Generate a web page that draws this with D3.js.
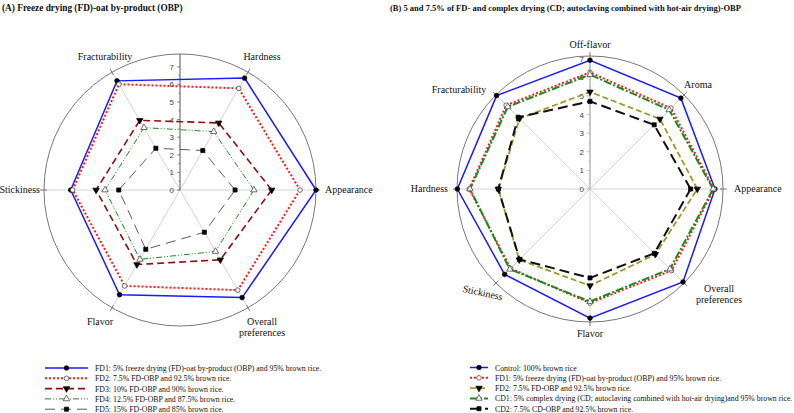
<!DOCTYPE html>
<html lang="en">
<head>
<meta charset="UTF-8">
<script src="https://cdn.jsdelivr.net/npm/d3@7"></script>
<style>
  body { margin: 0; background: #fff; }
  text { font-family: "Liberation Serif", "Times New Roman", serif; fill: #111; }
  .title { font-weight: bold; font-size: 9.3px; }
  .titleB { font-size: 8.5px; }
  .axisLabel { font-size: 10px; }
  .tickLabel { font-family: "Liberation Sans", Arial, sans-serif; font-size: 8px; fill: #444; }
  .legend { font-size: 7.8px; }
</style>
</head>
<body>
<div id="chart"></div>
<script>
// ---- data (A) ----
var axesA = ["Appearance", "Hardness", "Fracturability", "Stickiness", "Flavor", "Overall preferences"];
var fd1A = [7.73, 7.34, 7.16, 6.21, 6.87, 7.06];
var fd2A = [6.82, 6.67, 6.94, 6.10, 6.29, 6.57];
var fd3A = [5.21, 4.40, 4.57, 4.77, 4.89, 4.58];
var fd4A = [4.20, 3.83, 4.09, 4.26, 4.55, 4.03];
var fd5A = [3.13, 2.59, 2.74, 3.48, 3.89, 2.77];
var namesA = [
  "FD1: 5% freeze drying (FD)-oat by-product (OBP) and 95% brown rice.",
  "FD2: 7.5% FD-OBP and 92.5% brown rice.",
  "FD3: 10% FD-OBP and 90% brown rice.",
  "FD4: 12.5% FD-OBP and 87.5% brown rice.",
  "FD5: 15% FD-OBP and 85% brown rice."
];

// ---- data (B) ----
var axesB = ["Appearance", "Aroma", "Off-flavor", "Fracturability", "Hardness", "Stickiness", "Flavor", "Overall preferences"];
var controlB = [6.72, 6.91, 6.92, 7.10, 7.13, 6.49, 6.94, 7.07];
var fd1B = [6.67, 6.15, 6.27, 6.37, 6.49, 6.04, 6.13, 6.20];
var fd2B = [5.77, 5.32, 5.22, 5.36, 4.93, 5.38, 5.20, 4.97];
var cd1B = [6.62, 6.02, 6.15, 6.25, 6.45, 6.10, 6.05, 6.08];
var cd2B = [5.41, 4.88, 4.71, 5.46, 4.93, 5.35, 4.78, 4.89];
var namesB = [
  "Control: 100% brown rice",
  "FD1: 5% freeze drying (FD)-oat by-product (OBP) and 95% brown rice.",
  "FD2: 7.5% FD-OBP and 92.5% brown rice.",
  "CD1: 5% complex drying (CD; autoclaving combined with hot-air drying)and 95% brown rice.",
  "CD2: 7.5% CD-OBP and 92.5% brown rice."
];
var ticks = [0, 1, 2, 3, 4, 5, 6, 7];

var svg = d3.select("#chart").append("svg")
  .attr("width", 794).attr("height", 413);

svg.append("text").attr("class", "title").attr("x", 2).attr("y", 11)
  .text("(A) Freeze drying (FD)-oat by-product (OBP)");
svg.append("text").attr("class", "title titleB").attr("x", 390).attr("y", 11)
  .text("(B) 5 and 7.5% of FD- and complex drying (CD; autoclaving combined with hot-air drying)-OBP");

var styleA = [
  { color: "#1a1aff", dash: null, width: 1.5, sym: d3.symbolCircle, open: false, rot: 0 },
  { color: "#ff1a1a", dash: "2,2", width: 2, sym: d3.symbolCircle, open: true, rot: 0 },
  { color: "#8b1010", dash: "7,4", width: 1.6, sym: d3.symbolTriangle, open: false, rot: 180 },
  { color: "#1f8a1f", dash: "6,2,1,2,1,2", width: 1, sym: d3.symbolTriangle, open: true, rot: 0 },
  { color: "#333", dash: "10,6", width: 0.8, sym: d3.symbolSquare, open: false, rot: 0 }
];
var styleB = [
  { color: "#1a1aff", dash: null, width: 1.5, sym: d3.symbolCircle, open: false, rot: 0 },
  { color: "#ff1a1a", dash: "2,2", width: 2, sym: d3.symbolCircle, open: true, rot: 0 },
  { color: "#9c9a2a", dash: "6,3", width: 1.8, sym: d3.symbolTriangle, open: false, rot: 180 },
  { color: "#1a8a1a", dash: "8,2,2,2", width: 2, sym: d3.symbolTriangle, open: true, rot: 0 },
  { color: "#111", dash: "10,5", width: 2, sym: d3.symbolSquare, open: false, rot: 0 }
];

function symSize(st) { return st.sym === d3.symbolTriangle ? 18 : 17; }

function radar(cfg) {
  var g = svg.append("g").attr("transform", "translate(" + cfg.cx + "," + cfg.cy + ")");
  var r = d3.scaleLinear().domain([0, 7]).range([0, cfg.unit * 7]);
  var n = cfg.axes.length;
  var ang = function (i) { return Math.PI / 2 - i * 2 * Math.PI / n; }; // d3 radial angle
  var px = function (i, v) { return r(v) * Math.sin(ang(i)); };
  var py = function (i, v) { return -r(v) * Math.cos(ang(i)); };

  // outer circle
  g.append("circle").attr("r", cfg.outer).attr("fill", "none").attr("stroke", "#555").attr("stroke-width", 0.8);

  // spokes + end ticks
  cfg.axes.forEach(function (a, i) {
    var a0 = ang(i);
    g.append("line").attr("x1", 0).attr("y1", 0)
      .attr("x2", cfg.outer * Math.sin(a0)).attr("y2", -cfg.outer * Math.cos(a0))
      .attr("stroke", "#c8c8c8").attr("stroke-width", 0.8);
    g.append("line")
      .attr("x1", (cfg.outer - 3) * Math.sin(a0)).attr("y1", -(cfg.outer - 3) * Math.cos(a0))
      .attr("x2", (cfg.outer + 4) * Math.sin(a0)).attr("y2", -(cfg.outer + 4) * Math.cos(a0))
      .attr("stroke", "#555").attr("stroke-width", 0.8);
  });

  // scale axis (vertical)
  g.append("line").attr("x1", 0).attr("y1", 0).attr("x2", 0).attr("y2", -cfg.outer)
    .attr("stroke", cfg.axisColor).attr("stroke-width", 1);
  g.selectAll(".tk").data(d3.range(0, 7.5, 0.5)).enter().append("line")
    .attr("x1", 0).attr("x2", function (d) { return d % 1 === 0 ? -3 : -1.5; })
    .attr("y1", function (d) { return -r(d); }).attr("y2", function (d) { return -r(d); })
    .attr("stroke", cfg.axisColor).attr("stroke-width", 0.7);
  g.selectAll(".tl").data(ticks).enter().append("text")
    .attr("class", "tickLabel").attr("text-anchor", "end")
    .attr("x", -6).attr("y", function (d) { return -r(d) + 3; })
    .text(function (d) { return d; });

  // axis labels
  cfg.labels.forEach(function (L) {
    var t = g.append("text").attr("class", "axisLabel").attr("text-anchor", L.anchor)
      .attr("transform", "translate(" + L.x + "," + L.y + ")" + (L.rot ? " rotate(" + L.rot + ")" : ""));
    L.lines.forEach(function (s, k) {
      t.append("tspan").attr("x", 0).attr("dy", k === 0 ? 0 : 11).text(s);
    });
  });

  var line = d3.lineRadial()
    .angle(function (d, i) { return ang(i); })
    .radius(function (d) { return r(d); })
    .curve(d3.curveLinearClosed);

  cfg.series.forEach(function (vals, s) {
    var st = cfg.styles[s];
    g.append("path").datum(vals).attr("d", line)
      .attr("fill", "none").attr("stroke", st.color).attr("stroke-width", st.width)
      .attr("stroke-dasharray", st.dash);
  });
  cfg.series.forEach(function (vals, s) {
    var st = cfg.styles[s];
    g.selectAll(".m" + s).data(vals).enter().append("path")
      .attr("d", d3.symbol().type(st.sym).size(symSize(st)))
      .attr("transform", function (d, i) { return "translate(" + px(i, d) + "," + py(i, d) + ") rotate(" + st.rot + ")"; })
      .attr("fill", st.open ? "#fff" : "#000").attr("stroke", st.open ? "#333" : "#000").attr("stroke-width", 0.7);
  });

  // legend
  var lg = svg.append("g");
  cfg.names.forEach(function (nm, s) {
    var st = cfg.styles[s];
    var y = cfg.legY + s * cfg.legStep;
    lg.append("line").attr("x1", cfg.legX).attr("x2", cfg.legX + cfg.legW).attr("y1", y).attr("y2", y)
      .attr("stroke", st.color).attr("stroke-width", st.width).attr("stroke-dasharray", st.dash);
    lg.append("path").attr("d", d3.symbol().type(st.sym).size(symSize(st)))
      .attr("transform", "translate(" + (cfg.legX + cfg.legW / 2) + "," + y + ") rotate(" + st.rot + ")")
      .attr("fill", st.open ? "#fff" : "#000").attr("stroke", st.open ? "#333" : "#000").attr("stroke-width", 0.7);
    lg.append("text").attr("class", "legend").attr("x", cfg.legX + cfg.legW + 7).attr("y", y + 3).text(nm);
  });
}

radar({
  cx: 180, cy: 190, unit: 17.6, outer: 136, axisColor: "#555",
  axes: axesA, series: [fd1A, fd2A, fd3A, fd4A, fd5A], styles: styleA, names: namesA,
  labels: [
    { lines: ["Appearance"], x: 145, y: 3, anchor: "start" },
    { lines: ["Hardness"], x: 82, y: -130, anchor: "middle" },
    { lines: ["Fracturability"], x: -75, y: -130, anchor: "middle" },
    { lines: ["Stickiness"], x: -140, y: 3, anchor: "end" },
    { lines: ["Flavor"], x: -80, y: 135, anchor: "middle" },
    { lines: ["Overall", "preferences"], x: 82, y: 135, anchor: "middle" }
  ],
  legX: 45, legY: 368, legStep: 10.3, legW: 43
});

radar({
  cx: 590, cy: 189, unit: 18.6, outer: 133, axisColor: "#aaa",
  axes: axesB, series: [controlB, fd1B, fd2B, cd1B, cd2B], styles: styleB, names: namesB,
  labels: [
    { lines: ["Appearance"], x: 144, y: 3, anchor: "start" },
    { lines: ["Aroma"], x: 108, y: -101, anchor: "middle" },
    { lines: ["Off-flavor"], x: 0, y: -141, anchor: "middle" },
    { lines: ["Fracturability"], x: -131, y: -96, anchor: "middle" },
    { lines: ["Hardness"], x: -142, y: 3, anchor: "end" },
    { lines: ["Stickiness"], x: -108, y: 107, anchor: "middle", rot: 12 },
    { lines: ["Flavor"], x: 0, y: 148, anchor: "middle" },
    { lines: ["Overall", "preferences"], x: 129, y: 103, anchor: "middle" }
  ],
  legX: 470, legY: 367.5, legStep: 10.3, legW: 18
});
</script>
</body>
</html>
